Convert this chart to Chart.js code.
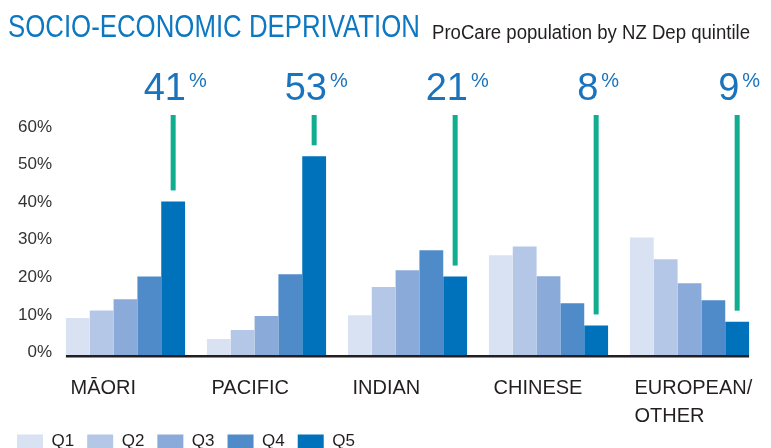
<!DOCTYPE html>
<html>
<head>
<meta charset="utf-8">
<script src="https://cdn.jsdelivr.net/npm/chart.js@4.4.1/dist/chart.umd.min.js"></script>
<style>
  html, body { margin: 0; padding: 0; background: #fff; overflow: hidden; }
  #wrap { position: relative; width: 771px; height: 448px; overflow: hidden; }
  .head { position: absolute; white-space: nowrap; line-height: 1; transform-origin: 0 0; font-family: "Liberation Sans", Arial, sans-serif; }
  #title { left: 8px; top: 11px; font-size: 31px; color: #0d78c2; }
  #subtitle { left: 432px; top: 22px; font-size: 20px; color: #231f20; }
  canvas { position: absolute; left: 0; top: 0; }
</style>
</head>
<body>
<div id="wrap">
  <canvas id="depChart" width="771" height="460"></canvas>
  <span class="head" id="title">SOCIO-ECONOMIC DEPRIVATION</span>
  <span class="head" id="subtitle">ProCare population by NZ Dep quintile</span>
</div>
<script>
// ethnic groups along the x axis
var categories = ['MĀORI', 'PACIFIC', 'INDIAN', 'CHINESE', ['EUROPEAN/', 'OTHER']];
var quintiles = ['Q1', 'Q2', 'Q3', 'Q4', 'Q5'];

// % of each group in each NZ Dep quintile
var q1 = [10, 4.4, 10.7, 26.7, 31.4];
var q2 = [12, 6.8, 18.2, 29, 25.6];
var q3 = [15, 10.5, 22.7, 21.1, 19.2];
var q4 = [21, 21.6, 28, 13.9, 14.7];
var q5 = [41, 53, 21, 8, 9];

var yTicks = [0, 10, 20, 30, 40, 50, 60];

var colours = ['#d9e2f2', '#b4c7e7', '#8aabd9', '#4f8bc9', '#0072bc'];
var sans = '"Liberation Sans", Arial, sans-serif';

// the heading font is narrower than anything installed, so squeeze it to width
function squeeze(id, target) {
    var el = document.getElementById(id);
    var w = el.getBoundingClientRect().width;
    el.style.transform = 'scaleX(' + (target / w) + ')';
}
squeeze('title', 412);
squeeze('subtitle', 318);

// teal stalks + big Q5 numbers above each group, and the short baseline
var calloutPlugin = {
    id: 'callouts',
    afterLayout: function(chart) {
        // let the two-line x label spill below the axis box without being clipped
        chart.scales.x.bottom += 12;
    },
    afterDatasetsDraw: function(chart) {
        var ctx = chart.ctx;
        var area = chart.chartArea;
        var meta = chart.getDatasetMeta(4);
        ctx.save();
        meta.data.forEach(function(bar, i) {
            ctx.fillStyle = '#10ad8f';
            var top = area.top - 15;
            ctx.fillRect(bar.x - 2.5, top, 5, bar.y - 11 - top);

            var num = String(q5[i]);
            ctx.font = '38px ' + sans;
            var nw = ctx.measureText(num).width;
            ctx.font = '20px ' + sans;
            var pw = ctx.measureText('%').width;
            var left = bar.x - (nw + 3 + pw) / 2 + 2;
            ctx.fillStyle = '#1a73bd';
            ctx.textAlign = 'left';
            ctx.textBaseline = 'alphabetic';
            ctx.font = '38px ' + sans;
            ctx.fillText(num, left, area.top - 30);
            ctx.font = '20px ' + sans;
            ctx.fillText('%', left + nw + 3, area.top - 43);
        });
        var first = chart.getDatasetMeta(0).data[0];
        var last = meta.data[meta.data.length - 1];
        var y0 = chart.scales.y.getPixelForValue(0);
        var x0 = first.x - first.width / 2;
        var x1 = last.x + last.width / 2;
        ctx.fillStyle = '#231f20';
        ctx.fillRect(x0, y0 - 0.5, x1 - x0, 2.5);
        ctx.restore();
    }
};

var series = [q1, q2, q3, q4, q5];

var ctx = document.getElementById('depChart').getContext('2d');
var depChart = new Chart(ctx, {
    type: 'bar',
    data: {
        labels: categories,
        datasets: series.map(function(vals, i) {
            return {
                label: quintiles[i],
                data: vals,
                backgroundColor: colours[i],
                borderWidth: 0,
                barPercentage: 1,
                categoryPercentage: 0.845
            };
        })
    },
    options: {
        responsive: false,
        animation: false,
        devicePixelRatio: 1,
        layout: {
            padding: { top: 130, left: 4, right: 11, bottom: 0 }
        },
        plugins: {
            legend: {
                position: 'bottom',
                align: 'start',
                labels: {
                    boxWidth: 26,
                    boxHeight: 14,
                    padding: 13,
                    color: '#231f20',
                    font: { family: sans, size: 17 }
                }
            },
            tooltip: { enabled: false },
            title: { display: false }
        },
        scales: {
            x: {
                grid: { display: false, drawTicks: false },
                border: { display: false },
                ticks: {
                    align: 'start',
                    labelOffset: -55,
                    padding: 18.5,
                    color: '#231f20',
                    font: { family: sans, size: 20, lineHeight: 1.4 }
                },
                afterFit: function(s) {
                    s.height = 64.5;
                    s.paddingLeft = 0;
                    s.paddingRight = 0;
                }
            },
            y: {
                min: 0,
                max: 60,
                grid: { display: false, drawTicks: false },
                border: { display: false },
                afterBuildTicks: function(s) {
                    s.ticks = yTicks.map(function(v) { return { value: v }; });
                },
                ticks: {
                    padding: 3,
                    labelOffset: -3,
                    color: '#333333',
                    font: { family: sans, size: 17 },
                    callback: function(v) { return v + '%'; }
                },
                afterFit: function(s) {
                    s.width = 51;
                }
            }
        }
    },
    plugins: [calloutPlugin]
});
</script>
</body>
</html>
